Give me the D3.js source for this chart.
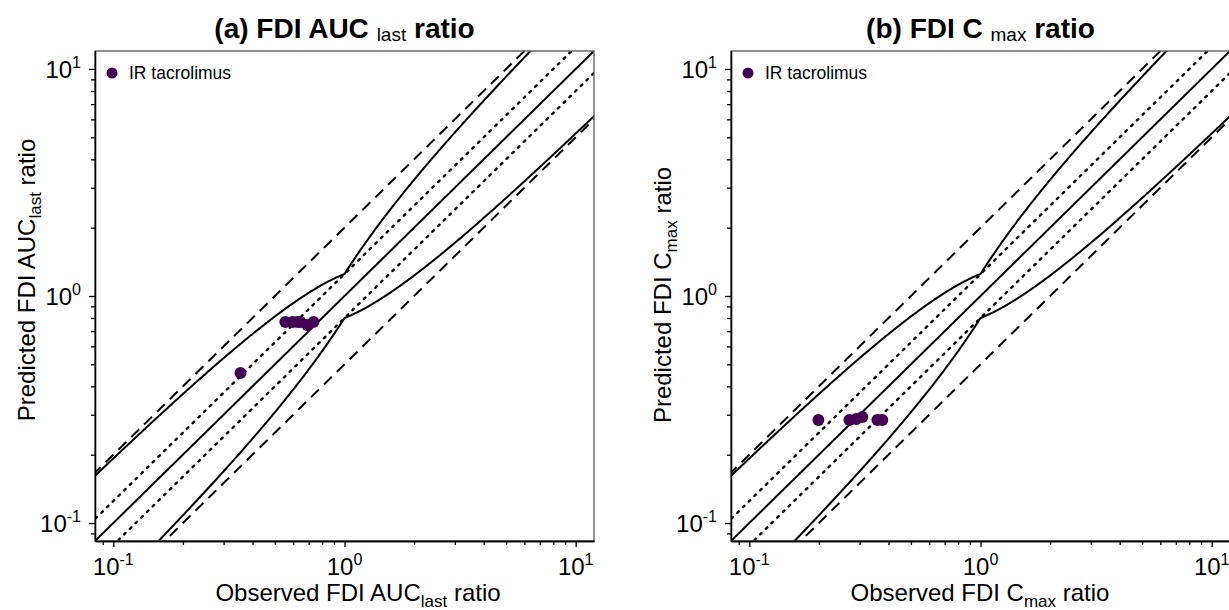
<!DOCTYPE html>
<html>
<head>
<meta charset="utf-8">
<script src="https://cdn.jsdelivr.net/npm/d3@7"></script>
<style>
body { margin: 0; background: #fff; }
text { font-family: "Liberation Sans", Arial, sans-serif; }
</style>
</head>
<body>
<div id="graph"></div>
<script>
// data
var obsAUC = [0.355, 0.555, 0.596, 0.626, 0.645, 0.69, 0.734];
var predAUC = [0.458, 0.768, 0.768, 0.768, 0.768, 0.745, 0.768];
var obsCmax = [0.199, 0.271, 0.29, 0.308, 0.358, 0.376];
var predCmax = [0.284, 0.284, 0.287, 0.293, 0.284, 0.284];
var seriesName = "IR tacrolimus";
var majorTicks = [0.1, 1, 10];
var tickExp = ["-1", "0", "1"];
var axisDomain = [1 / 12, 12];

var W = 1229, H = 610;
var svg = d3.select("#graph").append("svg")
  .attr("width", W).attr("height", H);

var panels = [
  {id: "a", left: 95, obs: obsAUC, pred: predAUC, title: ["(a) FDI AUC", "last", "ratio"],
   sub: "last", xlabCx: 358, ylabCy: 280},
  {id: "b", left: 731, obs: obsCmax, pred: predCmax, title: ["(b) FDI C", "max", "ratio"],
   sub: "max", xlabCx: 980, ylabCy: 295}
];
var plotTop = 51, pw = 499, ph = 490;

// minor ticks 2..9 in each decade
var minor = [];
[0.01, 0.1, 1, 10].forEach(function(d) {
  for (var k = 2; k <= 9; k++) minor.push(d * k);
});
minor = minor.filter(function(v) { return v >= axisDomain[0] && v <= axisDomain[1]; });

// Guest limits with delta = 1.25
function guest(o) {
  var r = o >= 1 ? o : 1 / o;
  return (1.25 + 2 * (r - 1)) / r;
}
var sample = d3.range(-1.2, 1.2001, 0.005).map(function(e) { return Math.pow(10, e); });

panels.forEach(function(p) {
  var x = d3.scaleLog().domain(axisDomain).range([0, pw]);
  var y = d3.scaleLog().domain(axisDomain).range([ph, 0]);
  var g = svg.append("g").attr("transform", "translate(" + p.left + "," + plotTop + ")");

  g.append("clipPath").attr("id", "clip" + p.id)
    .append("rect").attr("width", pw).attr("height", ph);

  var plot = g.append("g").attr("clip-path", "url(#clip" + p.id + ")");

  var refLines = [
    {f: function(o) { return o; }, dash: null},
    {f: function(o) { return o * 2; }, dash: "11,7"},
    {f: function(o) { return o / 2; }, dash: "11,7"},
    {f: function(o) { return o * 1.25; }, dash: "2,6"},
    {f: function(o) { return o * 0.8; }, dash: "2,6"},
    {f: function(o) { return o * guest(o); }, dash: null},
    {f: function(o) { return o / guest(o); }, dash: null}
  ];
  var line = d3.line();
  refLines.forEach(function(r) {
    plot.append("path")
      .attr("d", line(sample.map(function(o) { return [x(o), y(r.f(o))]; })))
      .attr("fill", "none")
      .attr("stroke", "#000")
      .attr("stroke-width", r.dash === "2,6" ? 2.4 : 2)
      .attr("stroke-linecap", r.dash === "2,6" ? "round" : "butt")
      .attr("stroke-dasharray", r.dash);
  });

  plot.selectAll(".dot")
    .data(p.obs)
    .enter().append("circle")
    .attr("class", "dot")
    .attr("cx", function(d) { return x(d); })
    .attr("cy", function(d, i) { return y(p.pred[i]); })
    .attr("r", 6)
    .attr("fill", "#440154");

  // box
  g.append("rect").attr("width", pw).attr("height", ph)
    .attr("fill", "none").attr("stroke", "#555").attr("stroke-width", 1.3);

  // axes: minor then major
  var xMinor = g.append("g").attr("transform", "translate(0," + ph + ")")
    .call(d3.axisBottom(x).tickValues(minor).tickFormat("").tickSize(4).tickSizeOuter(0));
  var xMajor = g.append("g").attr("transform", "translate(0," + ph + ")")
    .call(d3.axisBottom(x).tickValues(majorTicks).tickFormat("").tickSize(6).tickSizeOuter(0));
  var yMinor = g.append("g")
    .call(d3.axisLeft(y).tickValues(minor).tickFormat("").tickSize(4).tickSizeOuter(0));
  var yMajor = g.append("g")
    .call(d3.axisLeft(y).tickValues(majorTicks).tickFormat("").tickSize(6).tickSizeOuter(0));
  [xMinor, xMajor, yMinor, yMajor].forEach(function(a) {
    a.selectAll("line").attr("stroke", "#000").attr("stroke-width", 1.3);
    a.select(".domain").attr("stroke", "#000").attr("stroke-width", 1.3);
  });

  // tick labels with superscripts
  majorTicks.forEach(function(v, i) {
    var t = g.append("text")
      .attr("x", x(v)).attr("y", ph + 34)
      .attr("text-anchor", "middle")
      .attr("font-size", 24).attr("fill", "#000");
    t.append("tspan").text("10");
    t.append("tspan").attr("dy", -10).attr("font-size", 16).text(tickExp[i]);

    var ty = g.append("text")
      .attr("x", -14).attr("y", y(v) + 9)
      .attr("text-anchor", "end")
      .attr("font-size", 24).attr("fill", "#000");
    ty.append("tspan").text("10");
    ty.append("tspan").attr("dy", -10).attr("font-size", 16).text(tickExp[i]);
  });

  // legend
  g.append("circle").attr("cx", 17).attr("cy", 22).attr("r", 5.5).attr("fill", "#440154");
  g.append("text").attr("x", 34).attr("y", 28).attr("font-size", 17.5).text(seriesName);

  // title
  var tt = svg.append("text")
    .attr("x", p.left + pw / 2).attr("y", 38)
    .attr("text-anchor", "middle")
    .attr("font-size", 28).attr("font-weight", "bold");
  tt.append("tspan").text(p.title[0] + " ");
  tt.append("tspan").attr("font-weight", "normal").attr("font-size", 19).attr("dy", 3).text(p.title[1]);
  tt.append("tspan").attr("dy", -3).text(" " + p.title[2]);

  // x label
  var xl = svg.append("text")
    .attr("x", p.xlabCx).attr("y", 601)
    .attr("text-anchor", "middle").attr("font-size", 24);
  xl.append("tspan").text("Observed FDI " + (p.id === "a" ? "AUC" : "C"));
  xl.append("tspan").attr("dy", 6).attr("font-size", 17).text(p.sub);
  xl.append("tspan").attr("dy", -6).text(" ratio");

  // y label
  var yl = svg.append("text")
    .attr("transform", "translate(" + (p.left - 60) + "," + p.ylabCy + ") rotate(-90)")
    .attr("text-anchor", "middle").attr("font-size", 24);
  yl.append("tspan").text("Predicted FDI " + (p.id === "a" ? "AUC" : "C"));
  yl.append("tspan").attr("dy", 6).attr("font-size", 17).text(p.sub);
  yl.append("tspan").attr("dy", -6).text(" ratio");
});
</script>
</body>
</html>
